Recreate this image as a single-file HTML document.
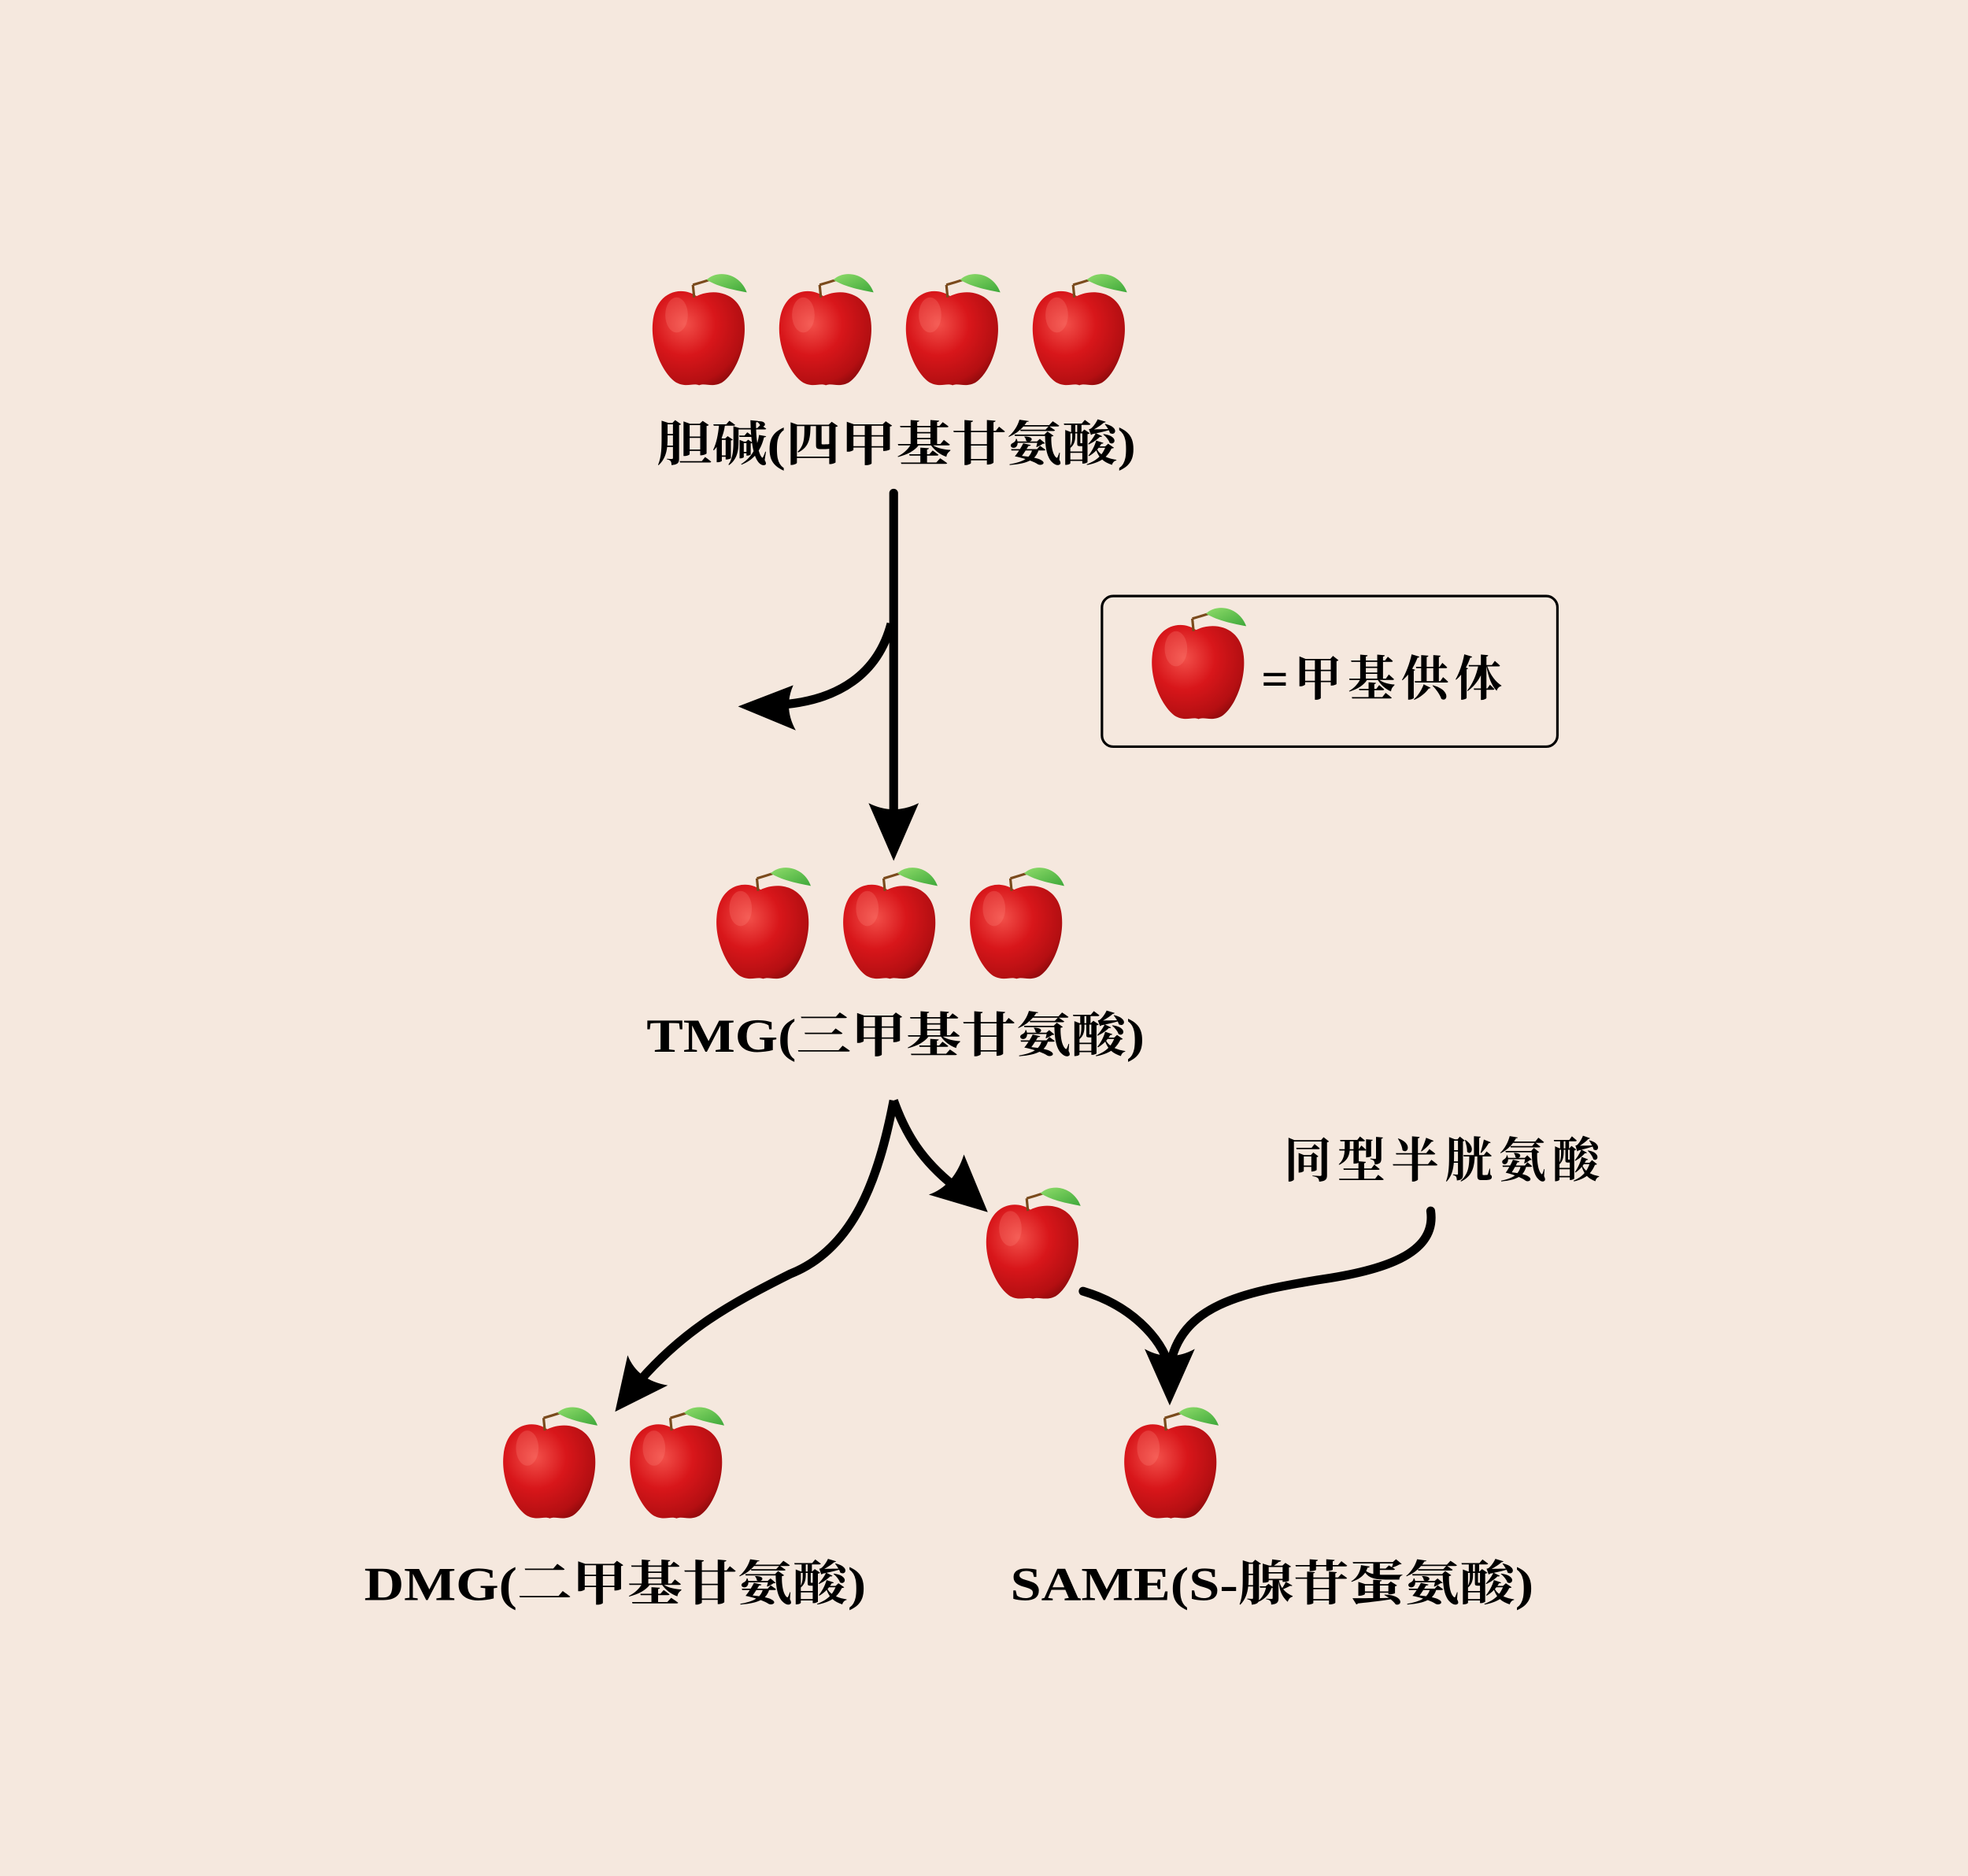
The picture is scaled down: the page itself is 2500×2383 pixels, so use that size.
<!DOCTYPE html>
<html><head><meta charset="utf-8"><style>
html,body{margin:0;padding:0;background:#f5e8de;}
svg{display:block;}
text{font-family:"Liberation Serif","Noto Serif CJK SC",serif;font-weight:bold;fill:#000;}
</style></head><body>
<svg width="2500" height="2383" viewBox="0 0 1568 1495" xmlns="http://www.w3.org/2000/svg">
<defs>
<radialGradient id="rg" cx="0.35" cy="0.35" r="0.75">
<stop offset="0" stop-color="#f2504a"/>
<stop offset="0.45" stop-color="#d8161a"/>
<stop offset="0.85" stop-color="#b40f12"/>
<stop offset="1" stop-color="#8e0a0c"/>
</radialGradient>
<linearGradient id="lg" x1="0" y1="0" x2="1" y2="1">
<stop offset="0" stop-color="#8fdc6a"/><stop offset="1" stop-color="#3ea83a"/>
</linearGradient>
<symbol id="apple" viewBox="-40 -50 80 90" overflow="visible">
<path d="M-2,-33 C-15,-42 -35,-36 -37,-12 C-39,8 -28,30 -18,36 C-10,40 -5,36 0,38 C5,36 10,40 18,36 C28,30 38,8 36,-12 C34,-36 12,-40 -2,-33 Z" fill="url(#rg)"/>
<ellipse cx="-18" cy="-18" rx="9" ry="14" fill="#ff8a80" opacity="0.25"/>
<path d="M-4,-32 L-5,-42 M-5,-42 Q2,-44 8,-46" stroke="#7a4a1c" stroke-width="2" fill="none"/>
<path d="M6,-46 C14,-54 32,-52 38,-36 C28,-38 16,-40 6,-46 Z" fill="url(#lg)"/>
</symbol>
</defs>
<rect width="1568" height="1495" fill="#f5e8de"/>

<use href="#apple" x="517" y="219" width="80" height="90"/>
<use href="#apple" x="618" y="219" width="80" height="90"/>
<use href="#apple" x="719" y="219" width="80" height="90"/>
<use href="#apple" x="820" y="219" width="80" height="90"/>
<text x="523" y="367" font-size="38" textLength="382" lengthAdjust="spacingAndGlyphs">胆碱(四甲基甘氨酸)</text>

<path d="M712,393 L712,645" stroke="#000" stroke-width="7" stroke-linecap="round" fill="none"/>
<path d="M712,686 L692,640 Q712,650 732,640 Z" fill="#000"/>
<path d="M710,497 C700,535 670,560 615,562" stroke="#000" stroke-width="7" fill="none"/>
<path d="M588,563 L632,546 Q624,564 634,582 Z" fill="#000"/>

<rect x="878" y="475" width="363" height="120" rx="9" fill="none" stroke="#000" stroke-width="2"/>
<use href="#apple" x="915" y="485" width="80" height="90"/>
<text x="1005" y="554" font-size="38" textLength="192" lengthAdjust="spacing">=甲基供体</text>

<use href="#apple" x="568" y="692" width="80" height="90"/>
<use href="#apple" x="669" y="692" width="80" height="90"/>
<use href="#apple" x="770" y="692" width="80" height="90"/>
<text x="515" y="838" font-size="38" textLength="397" lengthAdjust="spacingAndGlyphs">TMG(三甲基甘氨酸)</text>

<path d="M712,877 C700,940 680,995 630,1015 C580,1040 545,1060 510,1100" stroke="#000" stroke-width="7" stroke-linejoin="round" fill="none"/>
<path d="M490,1125 L500,1080 Q508,1100 532,1104 Z" fill="#000"/>
<path d="M712,877 C722,905 735,925 760,945" stroke="#000" stroke-width="7" fill="none"/>
<path d="M787,966 L740,952 Q760,945 768,920 Z" fill="#000"/>

<use href="#apple" x="783" y="947" width="80" height="90"/>
<text x="1023" y="938" font-size="38" textLength="252" lengthAdjust="spacing">同型半胱氨酸</text>

<path d="M1140,965 C1145,1000 1100,1013 1050,1020 C990,1030 940,1040 932,1090" stroke="#000" stroke-width="7" stroke-linecap="round" fill="none"/>
<path d="M863,1029 C900,1040 925,1065 932,1090" stroke="#000" stroke-width="7" stroke-linecap="round" fill="none"/>
<path d="M932,1120 L912,1075 Q932,1086 952,1075 Z" fill="#000"/>

<use href="#apple" x="398" y="1122" width="80" height="90"/>
<use href="#apple" x="499" y="1122" width="80" height="90"/>
<use href="#apple" x="893" y="1122" width="80" height="90"/>
<text x="290" y="1275" font-size="38" textLength="400" lengthAdjust="spacingAndGlyphs">DMG(二甲基甘氨酸)</text>
<text x="805" y="1275" font-size="38" textLength="417" lengthAdjust="spacingAndGlyphs">SAME(S-腺苷蛋氨酸)</text>
</svg>
</body></html>
